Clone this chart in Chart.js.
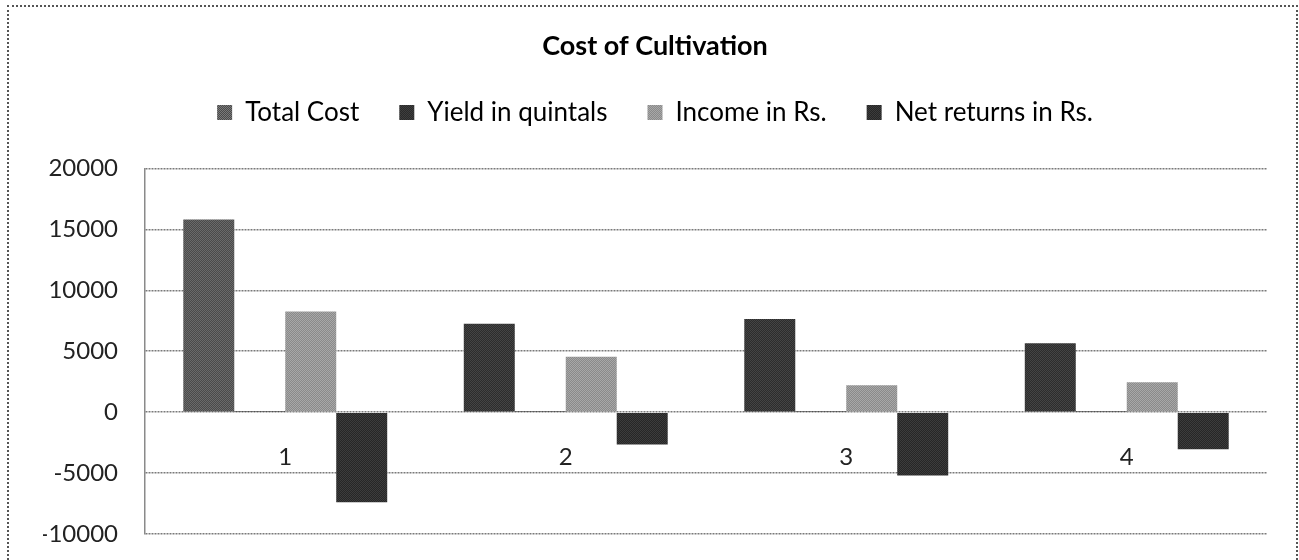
<!DOCTYPE html>
<html>
<head>
<meta charset="utf-8">
<title>Cost of Cultivation</title>
<script src="https://cdn.jsdelivr.net/npm/chart.js@4"></script>
<style>
    html, body { margin: 0; padding: 0; background: #fff; }
    #wrap { position: relative; width: 1299px; height: 560px; overflow: hidden; }
    #frame {
        position: absolute; left: 7px; top: 5px; right: 1px; bottom: -20px;
        border: 2px dotted #555;
    }
    canvas { position: absolute; left: 0; top: 0; }
</style>
</head>
<body>
<div id="wrap">
    <div id="frame"></div>
    <canvas id="chart" width="1299" height="560"></canvas>
</div>
<script>
const categories = ["1", "2", "3", "4"]
const totalCost = [15800, 7250, 7650, 5650]
const yieldQuintals = [16, 8, 9, 7]
const income = [8250, 4550, 2200, 2450]
const netReturns = [-7400, -2650, -5200, -3050]
const yTicks = [20000, 15000, 10000, 5000, 0, -5000, -10000]

// scanned-looking dithered fill
function dither(a, b){
    const c = document.createElement("canvas")
    c.width = c.height = 2
    const g = c.getContext("2d")
    g.fillStyle = a
    g.fillRect(0, 0, 2, 2)
    g.fillStyle = b
    g.fillRect(0, 0, 1, 1)
    g.fillRect(1, 1, 1, 1)
    return g.createPattern(c, "repeat")
}

const costFill = [dither("#4a4a4a", "#6a6a6a"), dither("#2c2c2c", "#444"), dither("#2c2c2c", "#444"), dither("#2c2c2c", "#444")]
const yieldFill = dither("#2a2a2a", "#3e3e3e")
const incomeFill = dither("#8a8a8a", "#a8a8a8")
const netFill = dither("#262626", "#3c3c3c")

// extra room between legend and plot
const legendSpace = {
    id: "legendSpace",
    beforeInit(chart){
        const fit = chart.legend.fit
        chart.legend.fit = function(){
            fit.bind(chart.legend)()
            this.height = 109
        }
    }
}

const chart = new Chart(document.querySelector("#chart"), {
    type: "bar",
    data: {
        labels: categories,
        datasets: [
            {label: "Total Cost", data: totalCost, backgroundColor: costFill},
            {label: "Yield in quintals", data: yieldQuintals, backgroundColor: yieldFill},
            {label: "Income in Rs.", data: income, backgroundColor: incomeFill},
            {label: "Net returns in Rs.", data: netReturns, backgroundColor: netFill}
        ]
    },
    options: {
        responsive: false,
        animation: false,
        categoryPercentage: 0.727,
        barPercentage: 1,
        layout: { padding: { left: 43, right: 32, top: 0, bottom: 26 } },
        plugins: {
            title: {
                display: true,
                text: "Cost of Cultivation",
                color: "#000",
                font: { family: "Lato", size: 27, weight: "bold" },
                padding: { top: 30, bottom: -3 }
            },
            legend: {
                display: true,
                labels: {
                    color: "#222",
                    font: { family: "Lato", size: 26 },
                    boxWidth: 15,
                    boxHeight: 15,
                    padding: 40,
                    generateLabels(chart){
                        return chart.data.datasets.map((ds, i) => ({
                            text: ds.label,
                            fillStyle: i === 0 ? dither("#4a4a4a", "#7a7a7a") : ds.backgroundColor,
                            strokeStyle: "rgba(0,0,0,0)",
                            lineWidth: 0,
                            datasetIndex: i
                        }))
                    }
                }
            },
            tooltip: { enabled: false }
        },
        scales: {
            x: {
                position: { y: 0 },
                afterFit(scale){ scale.height = 0 },
                grid: { display: false },
                border: { display: false },
                ticks: {
                    color: "#222",
                    padding: 23,
                    font: { family: "Lato", size: 24 }
                }
            },
            y: {
                min: -10000,
                max: 20000,
                afterFit(scale){
                    scale.width = 102
                    scale.paddingTop = 15
                    scale.paddingBottom = 15
                },
                afterBuildTicks(scale){ scale.ticks = yTicks.map(v => ({value: v})) },
                grid: { color: "#7a7a7a", lineWidth: 1.5, drawTicks: false },
                border: { display: true, color: "#8a8a8a", width: 1.5, dash: [2, 1] },
                ticks: {
                    color: "#222",
                    padding: 27,
                    font: { family: "Lato", size: 24 },
                    callback: v => String(v)
                }
            }
        }
    },
    plugins: [legendSpace]
})
</script>
</body>
</html>
